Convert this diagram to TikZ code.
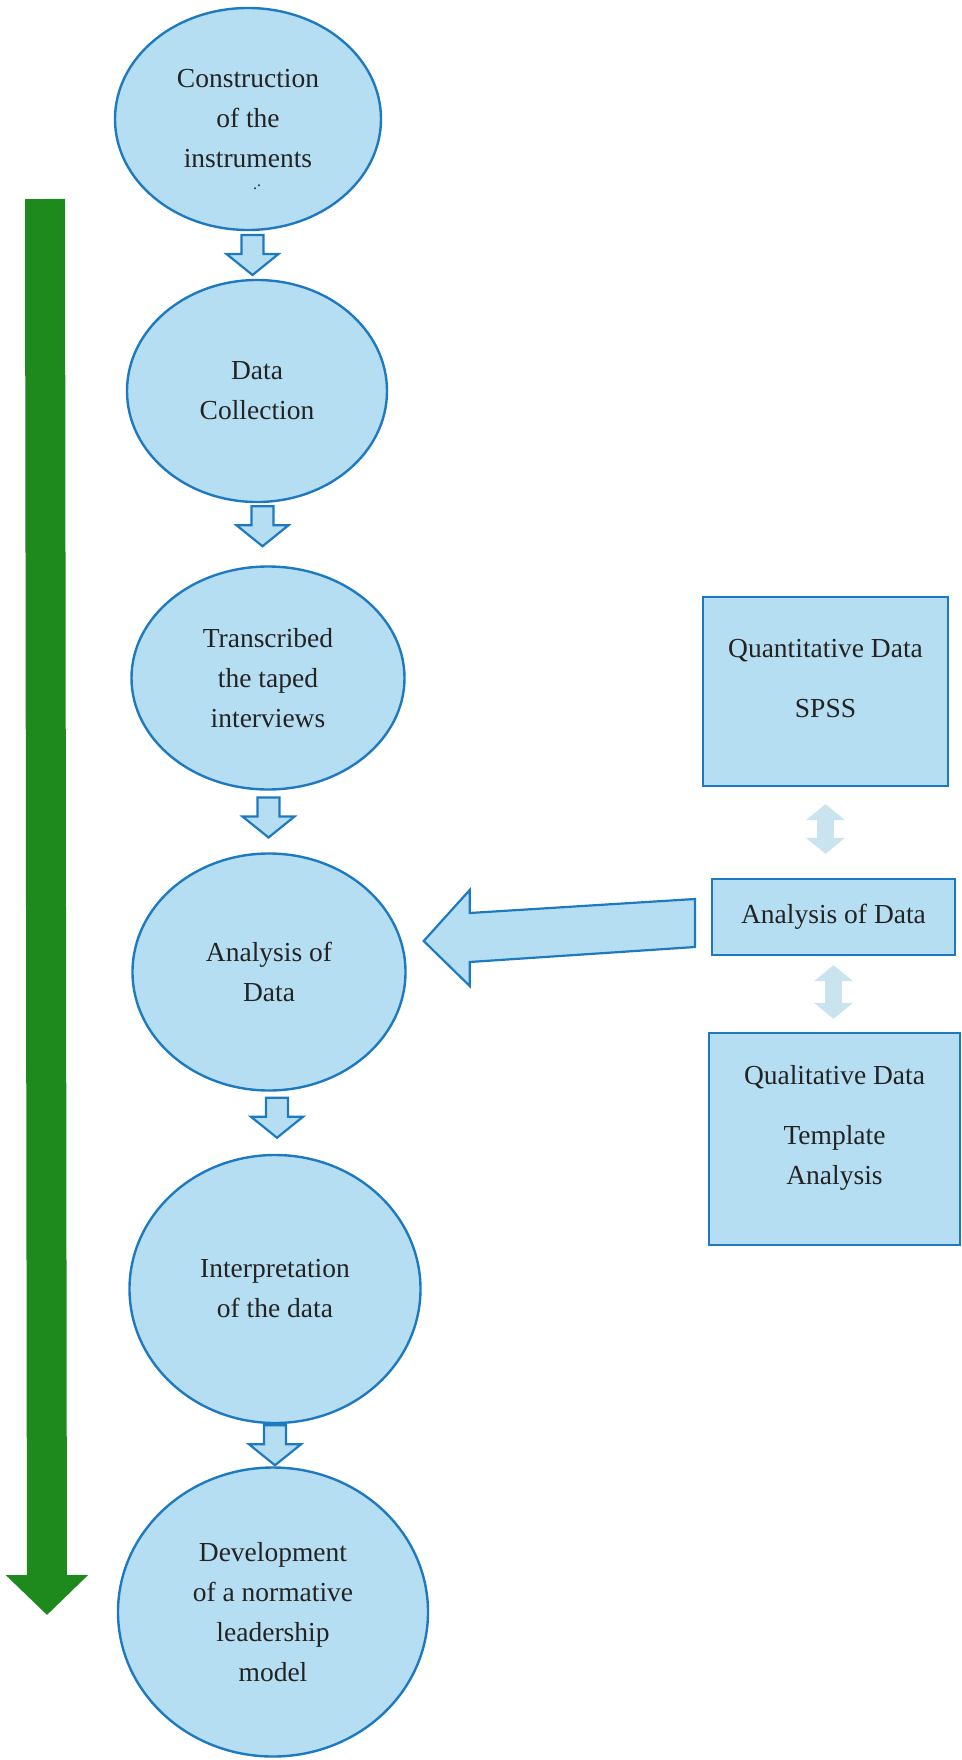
\documentclass[tikz,border=0pt]{standalone}
\usepackage{fontspec}
\setmainfont{Liberation Serif}
\usetikzlibrary{shapes.geometric,arrows.meta,calc}

\definecolor{stagefill}{RGB}{182,222,242}
\definecolor{stageline}{RGB}{30,122,192}
\definecolor{pairfill}{RGB}{202,228,239}
\definecolor{flowgreen}{RGB}{30,138,30}
\definecolor{inktext}{RGB}{35,35,35}

\tikzset{
  stage/.style={ellipse, draw=stageline, fill=stagefill, line width=1.2pt,
    inner sep=0pt, align=center, text=inktext,
    font=\fontsize{13.75}{20}\selectfont},
  databox/.style={rectangle, draw=stageline, fill=stagefill, line width=1.1pt,
    inner sep=0pt, align=center, text=inktext,
    font=\fontsize{13.75}{20}\selectfont},
  blockarrow/.style={draw=stageline, fill=stagefill, line width=1.1pt},
  pairarrow/.style={pairfill, line width=8.5pt,
    {Triangle[width=19pt,length=8pt]}-{Triangle[width=19pt,length=8pt]}}
}

\begin{document}
\begin{tikzpicture}[x=0.5pt, y=-0.5pt]
\useasboundingbox (0,0) rectangle (962,1760);

%the stages
\node[stage, minimum width=133pt, minimum height=111pt,
  label={[text=inktext, font=\footnotesize, inner sep=0pt, xshift=4.5pt, yshift=-34pt]center:.\raisebox{1.5pt}{.}}]
  at (248,119) (e1) {Construction\\of the\\instruments};
\node[stage, minimum width=130pt, minimum height=111pt] at (257,391) (e2)
  {Data\\Collection};
\node[stage, minimum width=136.5pt, minimum height=111.5pt] at (268,678) (e3)
  {Transcribed\\the taped\\interviews};
\node[stage, minimum width=136.5pt, minimum height=118.5pt] at (269,972) (e4)
  {Analysis of\\Data};
\node[stage, minimum width=145.5pt, minimum height=134pt] at (275,1289) (e5)
  {Interpretation\\of the data};
\node[stage, minimum width=155pt, minimum height=144.5pt] at (273,1612) (e6)
  {Development\\of a normative\\leadership\\model};

%the data boxes
\node[databox, minimum width=122.5pt, minimum height=94.5pt] at (825.5,691.5) (q)
  {Quantitative Data\\[10pt]SPSS\\[-7pt]\mbox{}};
\node[databox, minimum width=121.5pt, minimum height=38pt] at (833.5,917) (a)
  {Analysis of Data};
\node[databox, minimum width=125.5pt, minimum height=106pt] at (834.5,1139) (ql)
  {Qualitative Data\\[10pt]Template\\Analysis\\[-6pt]\mbox{}};

%hollow arrows between stages
\draw[blockarrow] ($(e1.south)!0.5!(e2.north)+(-11,-20)$) -- ++(22,0) -- ++(0,19)
  -- ++(15,0) -- ++(-26,21) -- ++(-26,-21) -- ++(15,0) -- cycle;
\draw[blockarrow] ($(e2.south)!0.5!(e3.north)+(-11,-28)$) -- ++(22,0) -- ++(0,19)
  -- ++(15,0) -- ++(-26,21) -- ++(-26,-21) -- ++(15,0) -- cycle;
\draw[blockarrow] ($(e3.south)!0.5!(e4.north)+(-11,-24)$) -- ++(22,0) -- ++(0,19)
  -- ++(15,0) -- ++(-26,21) -- ++(-26,-21) -- ++(15,0) -- cycle;
\draw[blockarrow] ($(e4.south)!0.5!(e5.north)+(-6,-25)$) -- ++(22,0) -- ++(0,19)
  -- ++(15,0) -- ++(-26,21) -- ++(-26,-21) -- ++(15,0) -- cycle;
\draw[blockarrow] ($(e5.south)!0.5!(e6.north)+(-10,-20)$) -- ++(22,0) -- ++(0,19)
  -- ++(15,0) -- ++(-26,21) -- ++(-26,-21) -- ++(15,0) -- cycle;

%big arrow into the analysis stage
\coordinate (bigtip) at ($(e4.east)+(17,-31)$);
\coordinate (bigend) at ($(a.west)+(-16,6)$);
\draw[blockarrow] (bigtip) -- ++(46,-51) -- ++(0,23) -- ($(bigend)+(0,-24)$)
  -- ($(bigend)+(0,24)$) -- ($(bigtip)+(46,21)$) -- ++(0,24) -- cycle;

%pale double arrows
\draw[pairarrow] ($(q.south)+(0,17)$) -- ($(a.north -| q.south)+(0,-24)$);
\draw[pairarrow] ($(a.south)+(0,9)$) -- ($(ql.north -| a.south)+(0,-13)$);

%green time line
\coordinate (flowtop) at (45,199);
\coordinate (flowend) at (47,1615);
\draw[flowgreen, line width=20pt, -{Triangle[width=40pt,length=20pt]}]
  (flowtop) -- (flowend);
\end{tikzpicture}
\end{document}
